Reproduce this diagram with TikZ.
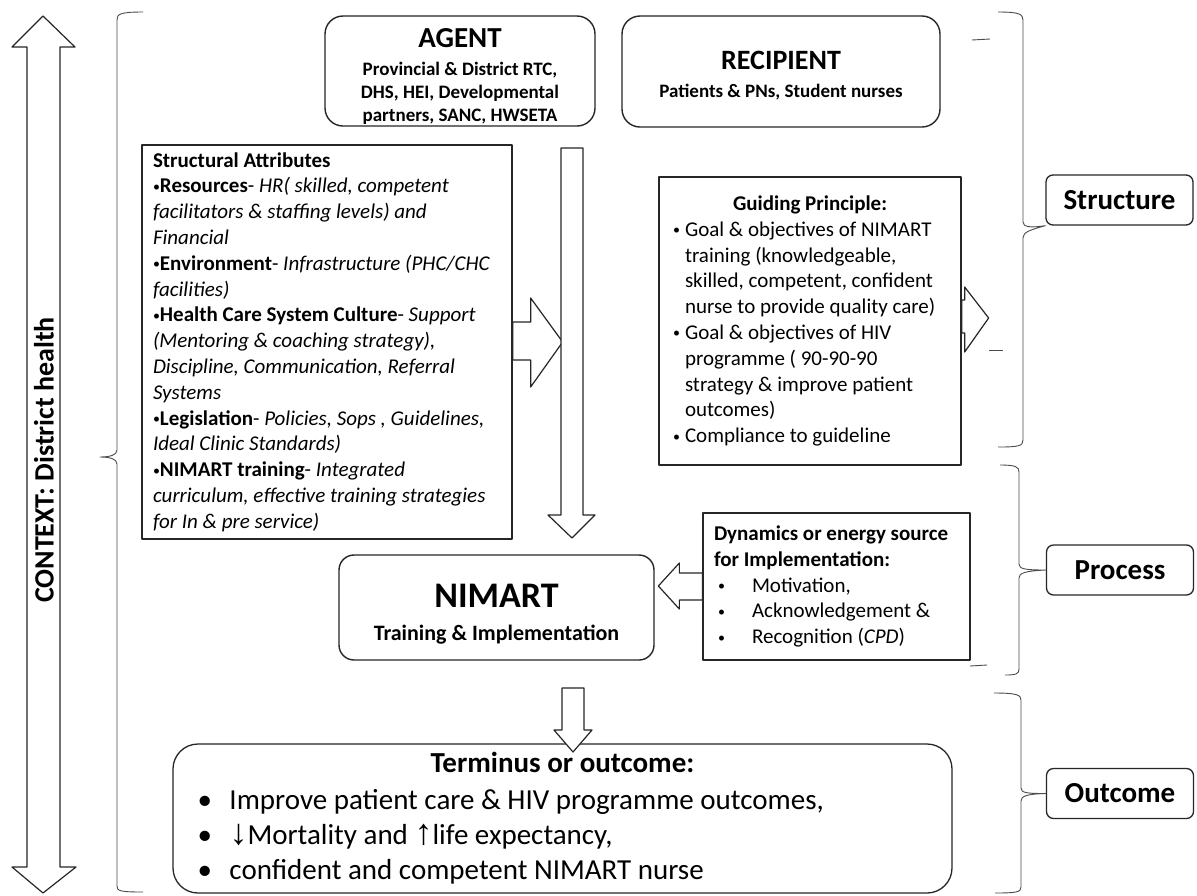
\documentclass[tikz,border=0pt]{standalone}
\usepackage{fontspec}
\setmainfont{Carlito}
\newfontfamily\arrowfont{Liberation Sans}
\usetikzlibrary{calc}
\newcommand{\sbul}{{\fontsize{14}{14}\selectfont\raisebox{1.5pt}{•}}}
\newcommand{\gbul}{\makebox[12pt][l]{\sbul}}
\newcommand{\gind}{\hspace*{12pt}}
\newcommand{\dbul}{\hspace*{4pt}\makebox[34pt][l]{\sbul}}
\newcommand{\obul}{\makebox[32pt][l]{•}}

\begin{document}
\begin{tikzpicture}[x=1pt,y=-1pt,line join=round,
  rbox/.style={draw=black!85, line width=1.4pt, rounded corners=18pt, inner sep=0pt, align=center},
  sbox/.style={draw=black!85, line width=1.3pt, inner ysep=0pt, align=flush left},
  lbl/.style={draw=black!85, line width=1.3pt, rounded corners=7pt, minimum width=147pt, minimum height=50pt, font=\fontsize{29}{32}\selectfont\bfseries},
  blk/.style={draw=black!85, line width=1.2pt, fill=white},
  brc/.style={draw=black!70, line width=0.9pt}]

\fill[white] (0,0) rectangle (1197,895);
\useasboundingbox (0,0) rectangle (1197,895);

% Context arrow
\draw[blk] (43,16) -- (75,47) -- (60,47) -- (60,867) -- (76,867) -- (43,893) -- (12,867) -- (27,867) -- (27,47) -- (12,47) -- cycle;
\node[rotate=90, font=\fontsize{28}{30}\selectfont\bfseries] (ctx) at (44,460) {CONTEXT: District health};

% Left brace
\draw[brc] (143,12) .. controls (120,12) and (117,14) .. (117,20) -- (117,450)
  .. controls (117,455) and (110,457) .. (100,457) .. controls (110,457) and (117,459) .. (117,464)
  -- (117,886) .. controls (117,891) and (120,892) .. (143,892);

% Agent and recipient
\node[rbox, minimum width=270pt, minimum height=110pt, font=\fontsize{19}{23}\selectfont\bfseries] (agt) at (460,71)
  {\rule{0pt}{29pt}{\fontsize{29}{29}\selectfont AGENT}\\[5pt] Provincial \& District RTC,\\ DHS, HEI, Developmental\\ partners, SANC, HWSETA};
\node[rbox, minimum width=318pt, minimum height=111pt, font=\fontsize{19}{23}\selectfont\bfseries] (rcp) at (781,71.5)
  {\rule{0pt}{27pt}{\fontsize{28}{28}\selectfont RECIPIENT}\\[5.5pt] Patients \& PNs, Student nurses};

% Structural attributes
\node[sbox, minimum width=370pt, minimum height=394pt, inner xsep=11pt, text width=348pt, font=\fontsize{21}{25.8}\selectfont] (sa) at (327,342)
  {\textbf{Structural Attributes}\\
   \sbul\textbf{Resources}- \textit{HR( skilled, competent}\\
   \textit{facilitators \& staffing levels) and}\\
   \textit{Financial}\\
   \sbul\textbf{Environment}- \textit{Infrastructure (PHC/CHC}\\
   \textit{facilities)}\\
   \sbul\textbf{Health Care System Culture}- \textit{Support}\\
   \textit{(Mentoring \& coaching strategy),}\\
   \textit{Discipline, Communication, Referral}\\
   \textit{Systems}\\
   \sbul\textbf{Legislation}- \textit{Policies, Sops , Guidelines,}\\
   \textit{Ideal Clinic Standards)}\\
   \sbul\textbf{NIMART training}- \textit{Integrated}\\
   \textit{curriculum, effective training strategies}\\
   \textit{for In \& pre service)}};

% Guiding principle
\node[sbox, minimum width=302pt, minimum height=288pt, inner xsep=14pt, text width=274pt, font=\fontsize{21}{25.8}\selectfont] (gp) at (810,321)
  {\makebox[\linewidth]{\bfseries Guiding Principle:}\\
   \gbul Goal \& objectives of NIMART\\
   \gind training (knowledgeable,\\
   \gind skilled, competent, confident\\
   \gind nurse to provide quality care)\\
   \gbul Goal \& objectives of HIV\\
   \gind programme ( 90-90-90\\
   \gind strategy \& improve patient\\
   \gind outcomes)\\
   \gbul Compliance to guideline};

% Dynamics
\node[sbox, minimum width=267pt, minimum height=147pt, inner xsep=11pt, text width=245pt, font=\fontsize{21}{25.8}\selectfont] (dyn) at (836.5,586.5)
  {\textbf{Dynamics or energy source}\\
   \textbf{for Implementation:}\\
   \dbul Motivation,\\
   \dbul Acknowledgement \&\\
   \dbul Recognition (\textit{CPD})};

% NIMART
\node[rbox, rounded corners=15pt, minimum width=315pt, minimum height=105pt, font=\fontsize{22}{26}\selectfont\bfseries] (nim) at (496.5,607.5)
  {\rule{0pt}{37pt}{\fontsize{36}{36}\selectfont NIMART}\\[7pt] Training \& Implementation};

% Terminus
\node[sbox, rounded corners=25pt, minimum width=779pt, minimum height=149pt, inner xsep=24.5pt, text width=730pt, font=\fontsize{29}{35}\selectfont] (trm) at (562.5,818.5)
  {\makebox[\linewidth]{\bfseries Terminus or outcome:}\\[2pt]
   \obul Improve patient care \& HIV programme outcomes,\\
   \obul {\arrowfont\fontsize{36}{36}\selectfont ↓}Mortality and {\arrowfont\fontsize{36}{36}\selectfont ↑}life expectancy,\\
   \obul confident and competent NIMART nurse};

% Block arrows
\draw[blk] ($(sa.east)+(0,-20)$) -- ++(18,0) -- ++(0,-24) -- ++(32,44) -- ++(-32,45) -- ++(0,-27) -- ++(-18,0) -- cycle;
\draw[blk] (561,148) -- (583,148) -- (583,515) -- (595,515) -- (572,538) -- (548,515) -- (561,515) -- cycle;
\draw[blk] ($(gp.east)+(0,-21)$) -- ++(3,0) -- ++(0,-13) -- ++(24,31) -- ++(-24,34) -- ++(0,-19) -- ++(-3,0) -- cycle;
\draw[blk] ($(dyn.west)+(0,-13.5)$) -- ++(-23,0) -- ++(0,-10) -- ++(-21,23) -- ++(21,23) -- ++(0,-9) -- ++(23,0) -- cycle;
\draw[blk] (562,688) -- (584,688) -- (584,730) -- (592,730) -- (573,752) -- (554,730) -- (562,730) -- cycle;

% Labels
\node[lbl] (slb) at (1119.5,200) {Structure};
\node[lbl] (plb) at (1120,570) {Process};
\node[lbl] (olb) at (1120,793.5) {Outcome};

% Right braces
\draw[brc] (998,12) .. controls (1019,12) and (1023,14) .. (1023,20) -- (1023,222)
  .. controls (1023,227) and (1030,228) .. (slb.south west) .. controls (1030,230) and (1023,232) .. (1023,238)
  -- (1023,440) .. controls (1023,446) and (1019,447) .. (998,447);
\draw[brc] (1000,465) .. controls (1016,465) and (1019,467) .. (1019,472) -- (1019,564)
  .. controls (1019,569) and (1025,570) .. (plb.west) .. controls (1025,571) and (1019,573) .. (1019,578)
  -- (1019,669) .. controls (1019,674) and (1016,675) .. (1005,675);
\draw[brc] (994,693) .. controls (1017,693) and (1021,695) .. (1021,700) -- (1021,788)
  .. controls (1021,793) and (1027,793.5) .. (olb.west) .. controls (1027,794) and (1021,796) .. (1021,801)
  -- (1021,887) .. controls (1021,892) and (1017,893) .. (995,893);

% Stray marks
\draw[brc] (972,40) -- (990,39);
\draw[brc] (989,350) -- (1003,350);
\draw[brc] (970,666) -- (987,665);
\end{tikzpicture}
\end{document}
